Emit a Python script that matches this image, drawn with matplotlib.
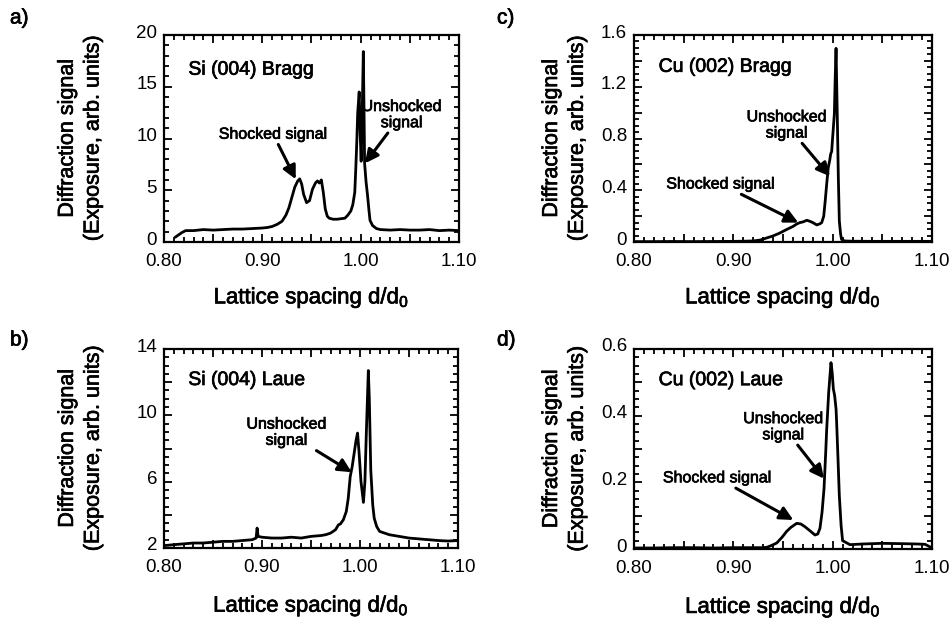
import matplotlib
matplotlib.use("Agg")
import matplotlib.pyplot as plt
import matplotlib.patheffects as pe
from matplotlib.ticker import MultipleLocator, FuncFormatter
from matplotlib.transforms import ScaledTranslation

plt.rcParams['font.family'] = ['Liberation Sans', 'DejaVu Sans']
plt.rcParams['mathtext.default'] = 'regular'

# ---- data ----
# a) Si (004) Bragg
xa = [0.812, 0.815, 0.818, 0.822, 0.83, 0.84, 0.85, 0.86, 0.87, 0.88,
      0.89, 0.90, 0.905, 0.91, 0.915, 0.92, 0.924, 0.927, 0.93, 0.933,
      0.936, 0.938, 0.940, 0.942, 0.945, 0.948, 0.951, 0.954, 0.956, 0.958,
      0.960, 0.962, 0.964, 0.966, 0.968, 0.972, 0.976, 0.980, 0.984, 0.987,
      0.990, 0.992, 0.994, 0.995, 0.996, 0.997, 0.9985, 0.9995, 1.0005, 1.0015,
      1.0027, 1.0035, 1.004, 1.0055, 1.007, 1.0085, 1.0095, 1.012, 1.016, 1.02,
      1.03, 1.04, 1.05, 1.06, 1.07, 1.08, 1.09, 1.10]
ya = [0.5, 0.7, 0.9, 1.1, 1.1, 1.2, 1.15, 1.2, 1.25, 1.25,
      1.3, 1.35, 1.4, 1.5, 1.7, 2.0, 2.6, 3.3, 4.3, 5.3,
      5.9, 6.1, 5.6, 4.6, 3.8, 4.0, 5.1, 5.7, 5.9, 5.7,
      6.0, 4.8, 3.2, 2.5, 2.3, 2.2, 2.2, 2.25, 2.3, 2.6,
      3.0, 3.6, 4.8, 7.0, 9.5, 12.5, 14.5, 10.5, 7.8, 12.0,
      18.4, 12.0, 7.6, 5.8, 4.5, 3.0, 2.1, 1.6, 1.3, 1.2,
      1.15, 1.2, 1.15, 1.15, 1.2, 1.1, 1.15, 1.1]

# b) Si (004) Laue
xb = [0.801, 0.81, 0.82, 0.83, 0.84, 0.85, 0.86, 0.87, 0.88, 0.89,
      0.894, 0.895, 0.896, 0.90, 0.91, 0.92, 0.93, 0.94, 0.95, 0.96,
      0.965, 0.970, 0.975, 0.978, 0.980, 0.983, 0.986, 0.988, 0.990, 0.992,
      0.994, 0.996, 0.9975, 0.999, 1.001, 1.0035, 1.005, 1.0065, 1.0085, 1.0095,
      1.011, 1.013, 1.0145, 1.017, 1.020, 1.025, 1.03, 1.04, 1.05, 1.06,
      1.07, 1.08, 1.09, 1.10]
yb = [2.15, 2.2, 2.25, 2.3, 2.3, 2.35, 2.4, 2.4, 2.45, 2.5,
      2.6, 3.2, 2.7, 2.65, 2.6, 2.6, 2.65, 2.6, 2.7, 2.75,
      2.8, 2.9, 3.1, 3.4, 3.45, 3.7, 4.2, 5.0, 6.3, 6.9,
      7.7, 8.5, 8.93, 7.8, 6.0, 4.75, 6.0, 9.0, 12.7, 11.0,
      6.7, 4.6, 3.8, 3.3, 3.0, 2.9, 2.8, 2.7, 2.6, 2.55,
      2.5, 2.45, 2.42, 2.45]

# c) Cu (002) Bragg
xc = [0.80, 0.82, 0.84, 0.86, 0.88, 0.90, 0.91, 0.92, 0.927, 0.933,
      0.94, 0.947, 0.954, 0.960, 0.964, 0.967, 0.970, 0.974, 0.977, 0.980,
      0.984, 0.987, 0.989, 0.991, 0.9925, 0.994, 0.9956, 0.997, 0.998, 0.999,
      1.000, 1.0017, 1.0025, 1.0034, 1.0047, 1.0057, 1.0067, 1.008, 1.009, 1.012,
      1.02, 1.04, 1.06, 1.08, 1.10]
yc = [0.003, 0.003, 0.004, 0.003, 0.004, 0.005, 0.006, 0.008, 0.015, 0.03,
      0.047, 0.07, 0.098, 0.12, 0.14, 0.15, 0.155, 0.168, 0.16, 0.15,
      0.132, 0.14, 0.15, 0.2, 0.318, 0.45, 0.577, 0.63, 0.68, 0.70,
      0.81, 0.99, 1.25, 1.497, 0.95, 0.5, 0.163, 0.06, 0.02, 0.008,
      0.006, 0.005, 0.005, 0.005, 0.005]

# d) Cu (002) Laue
xd = [0.80, 0.82, 0.84, 0.86, 0.88, 0.90, 0.92, 0.93, 0.9336, 0.938,
      0.9437, 0.949, 0.9537, 0.958, 0.9638, 0.968, 0.972, 0.977, 0.9822, 0.985,
      0.9872, 0.9893, 0.9913, 0.993, 0.994, 0.996, 0.9983, 0.9995, 1.0007, 1.002,
      1.0034, 1.004, 1.0055, 1.0067, 1.0085, 1.01, 1.0174, 1.03, 1.05, 1.07,
      1.085, 1.093, 1.097, 1.10]
yd = [0.003, 0.003, 0.004, 0.004, 0.003, 0.004, 0.004, 0.004, 0.005, 0.01,
      0.018, 0.035, 0.053, 0.065, 0.077, 0.075, 0.067, 0.055, 0.042, 0.045,
      0.062, 0.11, 0.181, 0.29, 0.36, 0.47, 0.559, 0.53, 0.48, 0.46,
      0.42, 0.38, 0.26, 0.16, 0.07, 0.025, 0.013, 0.015, 0.017, 0.016,
      0.015, 0.014, 0.008, 0.002]

x_labels = ['0.80', '0.90', '1.00', '1.10']
titles = ['Si (004) Bragg', 'Si (004) Laue', 'Cu (002) Bragg', 'Cu (002) Laue']
panel_tags = ['a)', 'b)', 'c)', 'd)']

fig = plt.figure(figsize=(9.49, 6.2), dpi=100)

W, H = 949.0, 620.0
def box(l, t, r, b):
    return [l / W, 1 - b / H, (r - l) / W, (b - t) / H]

specs = [
    (xa, ya, box(164, 35, 459, 242), (0, 20), 5, 1, 5, -0.205, 16.6),
    (xb, yb, box(164, 349, 458, 548), (2, 14), 2, 0.5, 4, -0.205, 12.1),
    (xc, yc, box(634, 35, 932, 242), (0, 1.6), 0.2, 0.05, 0.4, -0.155, 1.35),
    (xd, yd, box(634, 349, 932, 549), (0, 0.6), 0.1, 0.025, 0.2, -0.155, 0.505),
]

up = ScaledTranslation(0, 4 / 100.0, fig.dpi_scale_trans)

axes = []
for i, (x, y, rect, ylim, maj, mnr, lstep, ylx, ty) in enumerate(specs):
    ax = fig.add_axes(rect)
    axes.append(ax)
    ax.plot(x, y, color='black', lw=2.0, solid_joinstyle='round')
    ax.set_xlim(0.80, 1.10)
    ax.set_ylim(*ylim)
    ax.xaxis.set_major_locator(MultipleLocator(0.05))
    ax.xaxis.set_minor_locator(MultipleLocator(0.01))
    def xfmt(v, pos):
        s = f"{v:.2f}"
        return s if s in x_labels else ''
    ax.xaxis.set_major_formatter(FuncFormatter(xfmt))
    ax.yaxis.set_major_locator(MultipleLocator(maj))
    ax.yaxis.set_minor_locator(MultipleLocator(mnr))
    def yfmt(v, pos, lstep=lstep, base=ylim[0]):
        k = (v - base) / lstep
        if abs(k - round(k)) > 1e-6:
            return ''
        if lstep < 1:
            return '0' if abs(v) < 1e-9 else f"{v:.1f}"
        return f"{v:.0f}"
    ax.yaxis.set_major_formatter(FuncFormatter(yfmt))
    ax.tick_params(which='both', direction='in', top=True, right=True,
                   width=1.3, labelsize=13.5)
    ax.tick_params(axis='x', which='both', pad=8)
    ax.tick_params(axis='y', which='both', pad=5)
    ax.tick_params(which='major', length=6)
    ax.tick_params(which='minor', length=3.5)
    for s in ax.spines.values():
        s.set_linewidth(1.6)
    ax.set_xlabel('Lattice spacing d/d$_0$', fontsize=16)
    ax.set_ylabel('Diffraction signal\n(Exposure, arb. units)', fontsize=15.5,
                  linespacing=1.3)
    ax.yaxis.set_label_coords(ylx, 0.5)
    ax.xaxis.set_label_coords(0.5, -0.21 if i in (0, 2) else -0.23)
    ax.text(0.8248, ty, titles[i], fontsize=14, ha='left', va='center')
    for t in ax.yaxis.get_major_ticks():
        t.label1.set_transform(t.label1.get_transform() + up)

arrow = dict(arrowstyle='-|>', lw=2.2, color='black', mutation_scale=20,
             shrinkA=0, shrinkB=0)
ann = 11.5
ax = axes[0]
ax.annotate('Shocked signal', xy=(0.934, 6.06), xytext=(0.911, 9.69),
            arrowprops=arrow, fontsize=ann, ha='center', va='bottom')
ax.annotate('Unshocked\nsignal', xy=(1.0044, 7.6), xytext=(1.0417, 10.8),
            arrowprops=arrow, fontsize=ann, ha='center', va='bottom',
            linespacing=1.1)
ax = axes[1]
ax.annotate('Unshocked\nsignal', xy=(0.9915, 6.57), xytext=(0.925, 8.04),
            arrowprops=arrow, fontsize=ann, ha='center', va='bottom',
            linespacing=1.1)
ax = axes[2]
ax.annotate('Unshocked\nsignal', xy=(0.9973, 0.507), xytext=(0.9537, 0.784),
            arrowprops=arrow, fontsize=ann, ha='center', va='bottom',
            linespacing=1.1)
ax.annotate('Shocked signal', xy=(0.9654, 0.15), xytext=(0.942, 0.39),
            arrowprops=arrow, fontsize=ann, ha='right', va='bottom')
ax = axes[3]
ax.annotate('Unshocked\nsignal', xy=(0.9913, 0.211), xytext=(0.9503, 0.32),
            arrowprops=arrow, fontsize=ann, ha='center', va='bottom',
            linespacing=1.1)
ax.annotate('Shocked signal', xy=(0.9604, 0.087), xytext=(0.9386, 0.191),
            arrowprops=arrow, fontsize=ann, ha='right', va='bottom')

tag_pos = [(10, 18), (10, 340), (497, 18), (497, 340)]
for tag, (px, py) in zip(panel_tags, tag_pos):
    fig.text(px / W, 1 - py / H, tag, fontsize=15, ha='left', va='center')

# scanned print looks slightly heavier
fx = [pe.withStroke(linewidth=0.5, foreground='black')]
for t in fig.findobj(matplotlib.text.Text):
    if t.get_text():
        t.set_path_effects(fx)

fig.savefig('out.png', dpi=100)
